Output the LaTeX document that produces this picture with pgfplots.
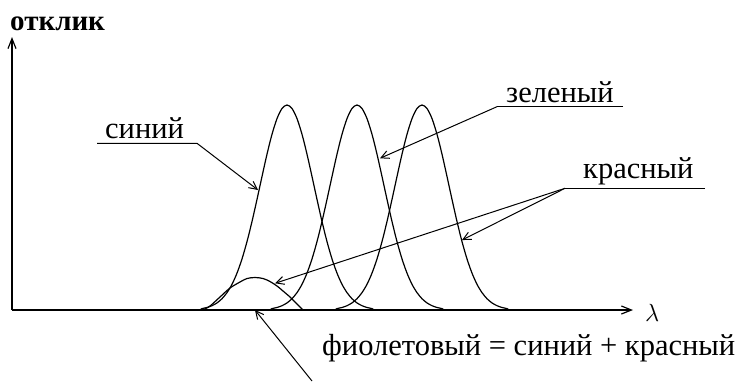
\documentclass[border=0pt]{standalone}
\usepackage{pgfplots}
\pgfplotsset{compat=1.18}
\usepackage{fontspec}
\setmainfont{Liberation Serif}
\usetikzlibrary{arrows.meta}
\begin{document}
\begin{tikzpicture}[
  lbl/.style={font=\fontsize{30.5bp}{36bp}\selectfont, inner sep=0pt},
  ann/.style={black, line width=1bp},
  tip/.style={-{Straight Barb[length=8bp,width=8bp]}},
  crv/.style={black, line width=1.2bp, smooth, mark=none}
]
\begin{axis}[
  x=1bp, y=1bp,
  xmin=12, xmax=633, ymin=0, ymax=273,
  axis lines=left,
  axis line style={line width=1.2bp, -{Straight Barb[length=10bp,width=8bp]}},
  ticks=none,
  clip=false,
]
% violet bump (short-wave lobe of the red response)
\addplot[crv] coordinates {(203,0) (210,4) (220,13) (230,22) (240,28) (247,31.5) (255,32.5) (263,31.5) (270,28.5) (277,24) (283,19) (290,13) (297,6) (303,0)};
% blue
\addplot[crv] coordinates {(200,0) (202,1.4) (207,2.5) (212,4.3) (217,7.1) (222,11.3) (227,17.4) (232,25.7) (237,36.9) (242,51.1) (247,68.4) (252,88.5) (257,110.6) (262,133.5) (267,155.8) (272,175.7) (277,191.4) (282,201.5) (287,205) (292,201.5) (297,191.4) (302,175.7) (307,155.8) (312,133.5) (317,110.6) (322,88.5) (327,68.4) (332,51.1) (337,36.9) (342,25.7) (347,17.4) (352,11.3) (357,7.1) (362,4.3) (367,2.5) (372,1.4) (374,0)};
% green
\addplot[crv] coordinates {(270,0) (272,1.4) (277,2.5) (282,4.3) (287,7.1) (292,11.3) (297,17.4) (302,25.7) (307,36.9) (312,51.1) (317,68.4) (322,88.5) (327,110.6) (332,133.5) (337,155.8) (342,175.7) (347,191.4) (352,201.5) (357,205) (362,201.5) (367,191.4) (372,175.7) (377,155.8) (382,133.5) (387,110.6) (392,88.5) (397,68.4) (402,51.1) (407,36.9) (412,25.7) (417,17.4) (422,11.3) (427,7.1) (432,4.3) (437,2.5) (442,1.4) (444,0)};
% red
\addplot[crv] coordinates {(335,0) (337,1.4) (342,2.5) (347,4.3) (352,7.1) (357,11.3) (362,17.4) (367,25.7) (372,36.9) (377,51.1) (382,68.4) (387,88.5) (392,110.6) (397,133.5) (402,155.8) (407,175.7) (412,191.4) (417,201.5) (422,205) (427,201.5) (432,191.4) (437,175.7) (442,155.8) (447,133.5) (452,110.6) (457,88.5) (462,68.4) (467,51.1) (472,36.9) (477,25.7) (482,17.4) (487,11.3) (492,7.1) (497,4.3) (502,2.5) (507,1.4) (509,0)};

% bounding box of the whole picture
\path (axis cs:0,-71) rectangle (axis cs:740,310);

% axis labels
\node[lbl, font=\fontsize{29bp}{34bp}\selectfont\bfseries, anchor=base west] at (axis cs:10,280) {отклик};
\node[lbl, anchor=base west] at (axis cs:645,-11.5) {$\lambda$};

% синий
\node[lbl, anchor=base west] at (axis cs:105,172) {синий};
\draw[ann, tip] (axis cs:97,166.7) -- (axis cs:197,166.7) -- (axis cs:258,120);
% зеленый
\node[lbl, anchor=base west] at (axis cs:506,208) {зеленый};
\draw[ann] (axis cs:623,203.3) -- (axis cs:497,203.3);
\draw[ann, tip] (axis cs:497,203.3) -- (axis cs:380,151.7);
% красный
\node[lbl, anchor=base west] at (axis cs:583,132) {красный};
\draw[ann] (axis cs:705,121.7) -- (axis cs:565,121.7);
\draw[ann, tip] (axis cs:565,121.7) -- (axis cs:462,70);
\draw[ann, tip] (axis cs:565,121.7) -- (axis cs:275,26.7);
% фиолетовый
\draw[ann, tip] (axis cs:312,-71) -- (axis cs:255,0);
\node[lbl, anchor=base west] at (axis cs:322,-45) {фиолетовый = синий + красный};
\end{axis}
\end{tikzpicture}
\end{document}
